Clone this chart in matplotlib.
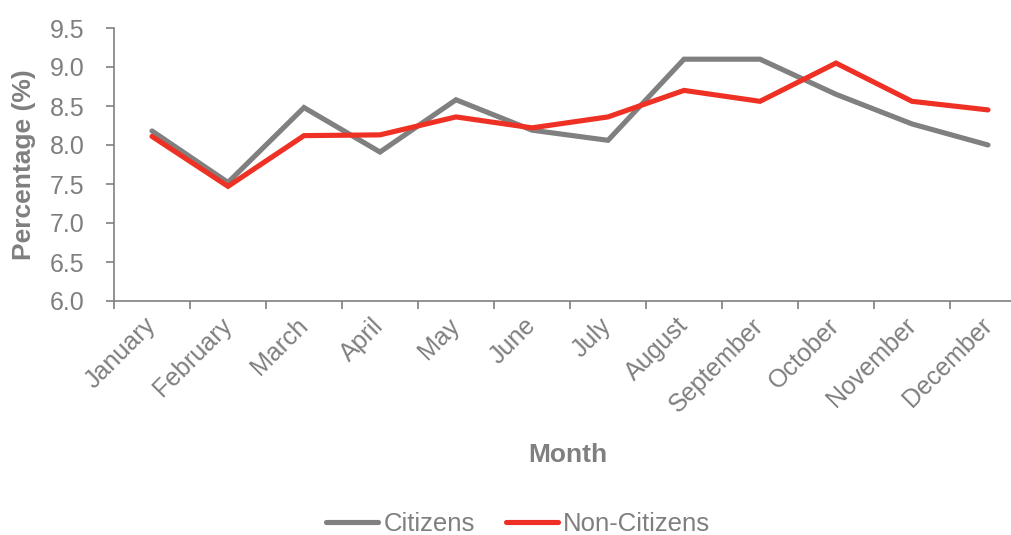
import matplotlib
matplotlib.use("Agg")
import matplotlib.pyplot as plt

months = ["January", "February", "March", "April", "May", "June", "July",
          "August", "September", "October", "November", "December"]
citizens = [8.18, 7.52, 8.48, 7.91, 8.58, 8.19, 8.06, 9.10, 9.10, 8.65, 8.27, 8.00]
non_citizens = [8.11, 7.47, 8.12, 8.13, 8.36, 8.22, 8.36, 8.70, 8.56, 9.05, 8.56, 8.45]
yticks = [6.0, 6.5, 7.0, 7.5, 8.0, 8.5, 9.0, 9.5]

plt.rcParams['font.family'] = ['Liberation Sans', 'DejaVu Sans']
GRAY = "#808080"
TXT = "#7f7f7f"
RED = "#EE3124"

W, H = 1012, 535
fig = plt.figure(figsize=(W / 100, H / 100), dpi=100)
left, right, top, bottom = 114, 1026, 28, 301
ax = fig.add_axes([left / W, 1 - bottom / H, (right - left) / W, (bottom - top) / H])

x = list(range(len(months)))
ax.plot(x, citizens, color=GRAY, lw=3.7, label="Citizens", solid_capstyle="round", solid_joinstyle="miter")
ax.plot(x, non_citizens, color=RED, lw=3.7, label="Non-Citizens", solid_capstyle="round", solid_joinstyle="miter")

ax.set_xlim(-0.5, len(months) - 0.5)
ax.set_ylim(6.0, 9.5)
ax.set_yticks(yticks)
ax.set_yticklabels([f"{v:.1f}" for v in yticks], fontsize=18, color=TXT)
ax.set_xticks([i - 0.5 for i in range(len(months) + 1)])
ax.set_xticklabels([])
ax.set_xticks(x, minor=True)
ax.set_xticklabels(months, minor=True, rotation=45, ha="right", va="center",
                   rotation_mode="anchor", fontsize=18, color=TXT)
ax.tick_params(axis="x", which="minor", length=0, pad=15)
ax.tick_params(axis="x", which="major", length=6, color=GRAY, width=1.2, direction="out")
ax.tick_params(axis="y", length=6, color=GRAY, width=1.2, direction="out", pad=15)

for s in ["top", "right"]:
    ax.spines[s].set_visible(False)
for s in ["left", "bottom"]:
    ax.spines[s].set_color(GRAY)
    ax.spines[s].set_linewidth(1.2)

ax.set_ylabel("Percentage (%)", fontsize=19, fontweight="bold", color=TXT)
ax.yaxis.set_label_coords((36 - left) / (right - left), 0.5)
fig.text(568 / W, 1 - 455 / H, "Month", fontsize=19, fontweight="bold", color=TXT,
         ha="center", va="center")

leg = fig.legend(loc="center", bbox_to_anchor=(518 / W, 1 - 524 / H), ncol=2, frameon=False,
                 fontsize=18.5, handlelength=2.05, handletextpad=0.2, columnspacing=1.2)
for t in leg.get_texts():
    t.set_color(TXT)

fig.savefig("out.png", dpi=100)
